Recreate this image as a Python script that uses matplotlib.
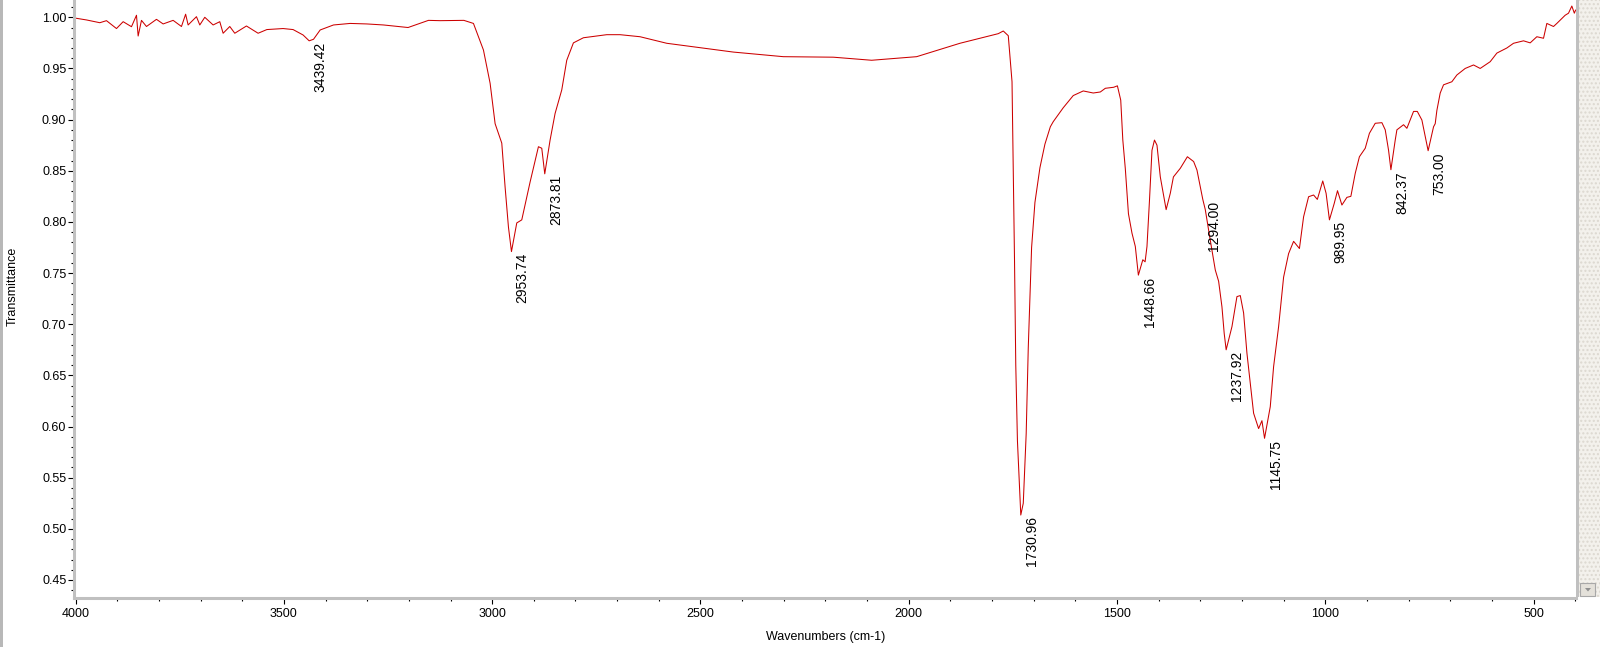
import matplotlib
matplotlib.use('Agg')
import matplotlib.pyplot as plt
from matplotlib.patches import Rectangle, Polygon
from matplotlib.ticker import MultipleLocator, FormatStrFormatter

plt.rcParams['font.family'] = ['Liberation Sans', 'DejaVu Sans']

# IR spectrum (wavenumber in cm-1, transmittance)
wavenumber = [
    3998, 3974, 3942, 3926, 3902, 3886, 3866, 3854, 3850, 3842, 3830, 3806, 3790,
    3766, 3746, 3736, 3730, 3710, 3702, 3690, 3670, 3654, 3646, 3630, 3618, 3590,
    3562, 3541, 3502, 3478, 3454, 3439.42, 3429, 3413, 3381, 3341, 3301, 3261,
    3225, 3202, 3153, 3125, 3068, 3045, 3021, 3005, 2993, 2977, 2969, 2961,
    2953.74, 2941, 2929, 2909, 2889, 2881, 2873.81, 2861, 2849, 2833, 2821, 2805,
    2781, 2725, 2693, 2645, 2581, 2421, 2301, 2181, 2089, 1981, 1877, 1785, 1773,
    1761, 1752, 1749, 1746, 1743, 1739, 1734, 1730.96, 1725, 1718, 1713, 1705,
    1697, 1685, 1673, 1660, 1653, 1629, 1605, 1581, 1557, 1540, 1528, 1508, 1499,
    1491, 1486, 1480, 1472.5, 1464, 1456, 1448.66, 1438, 1432.5, 1428, 1422, 1416,
    1410, 1404, 1396, 1382, 1372, 1364.5, 1348, 1331, 1316, 1308, 1300, 1294.00,
    1288, 1276, 1264, 1256, 1248, 1242.6, 1237.92, 1224, 1212, 1204, 1196, 1188,
    1180, 1172, 1160, 1152, 1145.75, 1132, 1124, 1112, 1100, 1088, 1076, 1062,
    1052, 1040, 1028, 1019, 1006, 998, 989.95, 978.5, 970.6, 960, 948, 938.5, 928,
    918, 904, 894, 880, 864, 856, 848, 842.37, 832, 828, 812, 804, 788, 779, 768,
    753.00, 740, 736, 732, 724, 716, 696, 684, 664, 644, 628, 604, 588, 564, 548,
    524, 508, 492, 476, 468, 452, 444, 424, 416, 408, 402, 399]
transmittance = [
    0.999, 0.9974, 0.9947, 0.9967, 0.989, 0.9957, 0.9908, 1.002, 0.9817, 0.997,
    0.991, 0.998, 0.9935, 0.997, 0.991, 1.003, 0.9925, 1.0006, 0.9925, 1.000,
    0.9925, 0.9957, 0.9844, 0.991, 0.9844, 0.9915, 0.9844, 0.988, 0.989, 0.988,
    0.9827, 0.977, 0.9785, 0.9876, 0.9925, 0.994, 0.9935, 0.9925, 0.991, 0.990,
    0.997, 0.9967, 0.997, 0.994, 0.968, 0.9355, 0.896, 0.877, 0.834, 0.795,
    0.771, 0.799, 0.802, 0.839, 0.8735, 0.872, 0.847, 0.880, 0.906, 0.929, 0.958,
    0.975, 0.980, 0.983, 0.983, 0.981, 0.9746, 0.966, 0.9615, 0.961, 0.958,
    0.9615, 0.9746, 0.984, 0.9866, 0.982, 0.937, 0.851, 0.762, 0.660, 0.586,
    0.542, 0.5135, 0.525, 0.593, 0.677, 0.775, 0.819, 0.853, 0.876, 0.893, 0.898,
    0.9116, 0.9235, 0.928, 0.926, 0.927, 0.9306, 0.9316, 0.933, 0.919, 0.880,
    0.852, 0.808, 0.789, 0.776, 0.748, 0.763, 0.761, 0.776, 0.821, 0.870, 0.880,
    0.875, 0.844, 0.812, 0.828, 0.844, 0.8524, 0.8637, 0.859, 0.8507, 0.834,
    0.822, 0.812, 0.782, 0.753, 0.742, 0.717, 0.691, 0.675, 0.6976, 0.727, 0.728,
    0.711, 0.6716, 0.642, 0.613, 0.598, 0.6057, 0.5885, 0.6194, 0.6585, 0.6976,
    0.746, 0.769, 0.781, 0.774, 0.805, 0.8246, 0.8263, 0.822, 0.840, 0.828,
    0.802, 0.818, 0.8305, 0.8165, 0.824, 0.825, 0.8475, 0.8637, 0.872, 0.8866,
    0.8964, 0.897, 0.890, 0.870, 0.851, 0.880, 0.890, 0.895, 0.8915, 0.908,
    0.908, 0.8996, 0.8696, 0.893, 0.896, 0.909, 0.926, 0.934, 0.937, 0.9436,
    0.950, 0.9534, 0.950, 0.9566, 0.965, 0.970, 0.9746, 0.977, 0.975, 0.981,
    0.9795, 0.994, 0.991, 0.994, 1.002, 1.004, 1.011, 1.004, 1.007]

# labelled peaks
peak_wn = [3439.42, 2953.74, 2873.81, 1730.96, 1448.66, 1294.00, 1237.92,
           1145.75, 989.95, 842.37, 753.00]
peak_tr = [transmittance[wavenumber.index(p)] for p in peak_wn]

W, H = 1600, 647
fig = plt.figure(figsize=(16, 6.47), dpi=100)
ax = fig.add_axes([74 / W, 1 - 598 / H, (1576 - 74) / W, 598 / H])

ax.plot(wavenumber, transmittance, color='#cc0000', lw=0.75)
for w, t in zip(peak_wn, peak_tr):
    ax.annotate('%.2f' % w, xy=(w, t), xytext=(3, -1), textcoords='offset points',
                rotation=90, ha='left', va='top', fontsize=10, color='black')

ax.set_xlim(4004, 398)
ax.set_ylim(0.4324, 1.0169)
ax.xaxis.set_major_locator(MultipleLocator(500))
ax.xaxis.set_minor_locator(MultipleLocator(100))
ax.yaxis.set_major_locator(MultipleLocator(0.05))
ax.yaxis.set_minor_locator(MultipleLocator(0.01))
ax.yaxis.set_major_formatter(FormatStrFormatter('%.2f'))

for s in ['top', 'right']:
    ax.spines[s].set_visible(False)
for s in ['left', 'bottom']:
    ax.spines[s].set_color('#c0c0c0')
    ax.spines[s].set_linewidth(2.2)

ax.tick_params(which='major', direction='out', length=4, width=0.8, color='black', labelsize=9)
ax.tick_params(which='minor', direction='out', length=2.2, width=0.8, color='black')
ax.tick_params(axis='x', which='major', pad=3)
ax.tick_params(axis='y', which='major', pad=1.5)

fig.text(13 / W, 1 - 286 / H, 'Transmittance', rotation=90, ha='center', va='center', fontsize=9)
fig.text(826 / W, 1 - 637 / H, 'Wavenumbers (cm-1)', ha='center', va='center', fontsize=9)

# window decorations: left border and scrollbar
fig.add_artist(Rectangle((0, 0), 2.5 / W, 1, transform=fig.transFigure, color='#b8b8b8', lw=0))
fig.add_artist(Rectangle((1576 / W, 1 - 597 / H), 3 / W, 597 / H, transform=fig.transFigure,
                         color='#c0c0c0', lw=0))
fig.add_artist(Rectangle((1579 / W, 1 - 597 / H), 21 / W, 597 / H, transform=fig.transFigure,
                         facecolor='#f3f1ec', edgecolor='#dcd8d0', hatch='....', lw=0))
fig.add_artist(Rectangle((1580 / W, 1 - 596 / H), 15 / W, 13 / H, transform=fig.transFigure,
                         facecolor='#e4e1da', edgecolor='#a8a8a8', lw=0.8))
fig.add_artist(Polygon([(1585 / W, 1 - 588 / H), (1591 / W, 1 - 588 / H), (1588 / W, 1 - 591.5 / H)],
                       closed=True, transform=fig.transFigure, color='#909090', lw=0))

fig.savefig('out.png', dpi=100)
